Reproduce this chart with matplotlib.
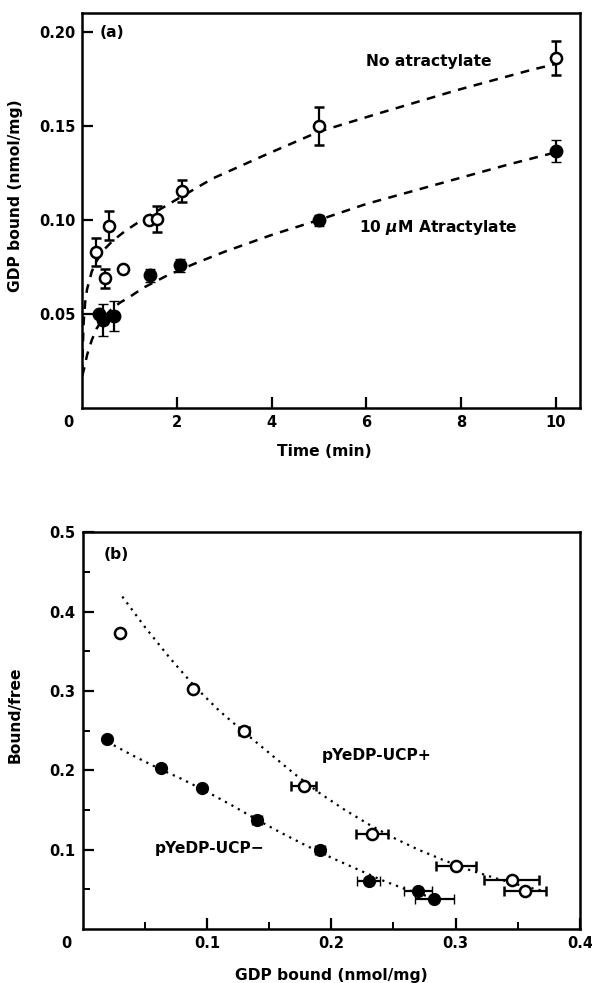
import numpy as np
import matplotlib
matplotlib.use("Agg")
import matplotlib.pyplot as plt
from matplotlib.transforms import ScaledTranslation

plt.rcParams['font.family'] = ['DejaVu Sans']
plt.rcParams['font.weight'] = 'bold'
plt.rcParams['mathtext.default'] = 'it'

# ---- panel (a): GDP binding vs time ----
time_open = [0.29, 0.48, 0.57, 0.85, 1.40, 1.57, 2.10, 5.0, 10.0]
gdp_open = [0.083, 0.069, 0.097, 0.074, 0.0997, 0.1003, 0.1155, 0.150, 0.186]
err_open = [0.0075, 0.005, 0.0076, 0.0, 0.0, 0.007, 0.006, 0.010, 0.009]

time_filled = [0.36, 0.43, 0.67, 1.43, 2.07, 5.0, 10.0]
gdp_filled = [0.050, 0.0467, 0.049, 0.0705, 0.0758, 0.0997, 0.1367]
err_filled = [0.0, 0.0083, 0.008, 0.0035, 0.0035, 0.003, 0.006]

# fitted curves
fit_t_open = [0.0, 0.01, 0.03, 0.06, 0.1, 0.2, 0.3, 0.45, 0.65, 0.9, 1.2, 1.6,
              2.0, 2.75, 3.9, 5.0, 6.3, 7.9, 9.5, 10.0]
fit_y_open = [0.018, 0.032, 0.046, 0.056, 0.063, 0.0725, 0.078, 0.084, 0.089, 0.094,
              0.099, 0.105, 0.111, 0.122, 0.135, 0.147, 0.157, 0.169, 0.180, 0.183]
fit_t_filled = [0.0, 0.05, 0.1, 0.2, 0.3, 0.45, 0.6, 0.8, 1.0, 1.3, 1.8, 2.4, 3.0,
                4.0, 5.0, 6.0, 7.0, 8.0, 9.0, 10.0]
fit_y_filled = [0.017, 0.022, 0.028, 0.036, 0.042, 0.048, 0.052, 0.056, 0.059, 0.064,
                0.0705, 0.077, 0.083, 0.092, 0.100, 0.1085, 0.1155, 0.1225, 0.1295, 0.136]

# ---- panel (b): Scatchard plot ----
bound_plus = [0.030, 0.089, 0.130, 0.178, 0.233, 0.300, 0.345, 0.356]
ratio_plus = [0.3735, 0.303, 0.250, 0.180, 0.120, 0.079, 0.0615, 0.048]
xerr_plus = [0.0, 0.0, 0.004, 0.010, 0.0128, 0.016, 0.022, 0.017]

bound_minus = [0.020, 0.063, 0.096, 0.140, 0.191, 0.230, 0.270, 0.283]
ratio_minus = [0.239, 0.2025, 0.178, 0.138, 0.100, 0.061, 0.0485, 0.0375]
xerr_minus = [0.0, 0.0, 0.0, 0.004, 0.004, 0.0094, 0.0113, 0.016]

fit_x_plus = [0.032, 0.05, 0.07, 0.09, 0.11, 0.13, 0.15, 0.17, 0.19, 0.21, 0.23,
              0.25, 0.27, 0.29, 0.31, 0.33, 0.35, 0.37]
fit_y_plus = [0.419, 0.381, 0.342, 0.306, 0.275, 0.248, 0.222, 0.196, 0.172, 0.151,
              0.132, 0.115, 0.100, 0.087, 0.075, 0.065, 0.056, 0.048]
fit_x_minus = [0.020, 0.04, 0.063, 0.08, 0.10, 0.12, 0.14, 0.16, 0.18, 0.20, 0.22,
               0.24, 0.26, 0.28, 0.29]
fit_y_minus = [0.236, 0.219, 0.201, 0.189, 0.173, 0.156, 0.138, 0.121, 0.105, 0.090,
               0.076, 0.062, 0.050, 0.040, 0.035]

W, H = 592, 983
fig = plt.figure(figsize=(W / 100, H / 100), dpi=100)
ax1 = fig.add_axes([82.3 / W, 1 - 407.7 / H, 497.2 / W, 394.4 / H])
ax2 = fig.add_axes([82.5 / W, 1 - 929.0 / H, 497.5 / W, 396.7 / H])

tick_fs = 10.5
text_fs = 11.2


def style_axes(ax):
    for sp in ax.spines.values():
        sp.set_linewidth(1.8)
    ax.tick_params(direction='in', which='major', length=8, width=1.6,
                   labelsize=tick_fs, top=False, right=False, pad=5)
    ax.tick_params(direction='in', which='minor', length=5, width=1.4,
                   top=False, right=False)
    for lab in ax.get_xticklabels() + ax.get_yticklabels():
        lab.set_fontweight('bold')


def shift_zero(ax, dx):
    # the "0" under the origin sits a little left of the spine
    labs = ax.get_xticklabels()
    off = ScaledTranslation(dx / 100, 0, fig.dpi_scale_trans)
    labs[0].set_transform(labs[0].get_transform() + off)
    ax.xaxis.get_major_ticks()[0].tick1line.set_visible(False)


# --- (a)
ax1.plot(fit_t_open, fit_y_open, color='black', lw=1.8, ls=(0, (3.5, 3)))
ax1.plot(fit_t_filled, fit_y_filled, color='black', lw=1.8, ls=(0, (3.5, 3)))
ax1.errorbar(time_open, gdp_open, yerr=err_open, fmt='o', ms=8, mfc='white',
             mec='black', mew=1.8, ecolor='black', elinewidth=1.6, capsize=3.6,
             capthick=1.6, zorder=3)
ax1.errorbar(time_filled, gdp_filled, yerr=err_filled, fmt='o', ms=9, mfc='black',
             mec='black', mew=1.0, ecolor='black', elinewidth=1.6, capsize=3.6,
             capthick=1.6, zorder=3)
ax1.set_xlim(0, 10.5)
ax1.set_ylim(0, 0.21)
ax1.set_xticks([0, 2, 4, 6, 8, 10])
ax1.set_xticklabels(['0', '2', '4', '6', '8', '10'])
ax1.set_yticks([0.05, 0.10, 0.15, 0.20])
ax1.set_yticklabels(['0.05', '0.10', '0.15', '0.20'])
style_axes(ax1)
shift_zero(ax1, -14)
ax1.set_xlabel('Time (min)', fontsize=text_fs, fontweight='bold')
ax1.set_ylabel('GDP bound (nmol/mg)', fontsize=text_fs, fontweight='bold')
ax1.xaxis.set_label_coords(0.487, -0.11)
ax1.xaxis.label.set_va('center')
ax1.yaxis.set_label_coords(-0.135, 0.537)
ax1.yaxis.label.set_va('center')
ax1.text(0.37, 0.20, '(a)', fontsize=text_fs, fontweight='bold', va='center', ha='left')
ax1.text(6.0, 0.1845, 'No atractylate', fontsize=text_fs, fontweight='bold',
         va='center', ha='left')
ax1.text(5.84, 0.0962, r'10 $\mu$M Atractylate', fontsize=text_fs, fontweight='bold',
         va='center', ha='left')

# --- (b)
ax2.plot(fit_x_plus, fit_y_plus, color='black', lw=1.6, ls=(0, (1, 2.3)))
ax2.plot(fit_x_minus, fit_y_minus, color='black', lw=1.6, ls=(0, (1, 2.3)))
ax2.errorbar(bound_plus, ratio_plus, xerr=xerr_plus, fmt='o', ms=8, mfc='white',
             mec='black', mew=1.8, ecolor='black', elinewidth=1.6, capsize=3.6,
             capthick=1.6, zorder=3)
ax2.errorbar(bound_minus, ratio_minus, xerr=xerr_minus, fmt='o', ms=8.5, mfc='black',
             mec='black', mew=1.0, ecolor='black', elinewidth=1.6, capsize=3.6,
             capthick=1.6, zorder=3)
ax2.set_xlim(0, 0.4)
ax2.set_ylim(0, 0.5)
ax2.set_xticks([0, 0.1, 0.2, 0.3, 0.4])
ax2.set_xticklabels(['0', '0.1', '0.2', '0.3', '0.4'])
ax2.set_xticks([0.05, 0.15, 0.25, 0.35], minor=True)
ax2.set_yticks([0.1, 0.2, 0.3, 0.4, 0.5])
ax2.set_yticklabels(['0.1', '0.2', '0.3', '0.4', '0.5'])
ax2.set_yticks([0.05, 0.15, 0.25, 0.35, 0.45], minor=True)
style_axes(ax2)
shift_zero(ax2, -16)
ax2.set_xlabel('GDP bound (nmol/mg)', fontsize=text_fs, fontweight='bold')
ax2.set_ylabel('Bound/free', fontsize=text_fs, fontweight='bold')
ax2.xaxis.set_label_coords(0.50, -0.116)
ax2.xaxis.label.set_va('center')
ax2.yaxis.set_label_coords(-0.135, 0.539)
ax2.yaxis.label.set_va('center')
ax2.text(0.0166, 0.4714, '(b)', fontsize=text_fs, fontweight='bold', va='center', ha='left')
ax2.text(0.192, 0.219, 'pYeDP-UCP+', fontsize=text_fs, fontweight='bold',
         va='center', ha='left')
ax2.text(0.058, 0.102, 'pYeDP-UCP\u2212', fontsize=text_fs, fontweight='bold',
         va='center', ha='left')

fig.savefig('out.png', dpi=100)
